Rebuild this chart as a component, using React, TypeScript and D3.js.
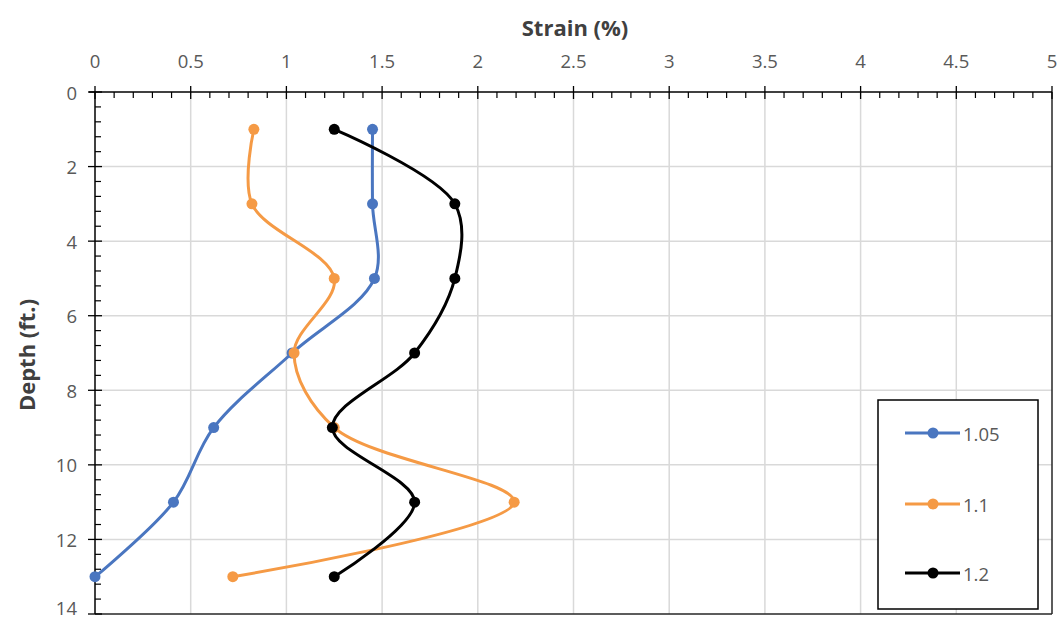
import * as d3 from 'd3';

const depths = [1, 3, 5, 7, 9, 11, 13];
const strain105 = [1.45, 1.45, 1.46, 1.03, 0.62, 0.41, 0];
const strain11 = [0.83, 0.82, 1.25, 1.04, 1.25, 2.19, 0.72];
const strain12 = [1.25, 1.88, 1.88, 1.67, 1.24, 1.67, 1.25];
const seriesNames = ['1.05', '1.1', '1.2'];
const seriesColors = ['#4A76C0', '#F59A45', '#000000'];
const xTicks = [0, 0.5, 1, 1.5, 2, 2.5, 3, 3.5, 4, 4.5, 5];
const yTicks = [0, 2, 4, 6, 8, 10, 12, 14];

const W = 1057;
const H = 618;
const font = '"Open Sans", "Noto Sans", sans-serif';

export default function App() {
  const x = d3.scaleLinear().domain([0, 5]).range([95, 1052]);
  const y = d3.scaleLinear().domain([0, 14]).range([92, 614]);

  const series = [strain105, strain11, strain12].map((vals, i) => ({
    name: seriesNames[i],
    color: seriesColors[i],
    pts: vals.map((v, j) => [v, depths[j]] as [number, number]),
  }));

  const line = d3.line<[number, number]>()
    .x(d => x(d[0]))
    .y(d => y(d[1]))
    .curve(d3.curveCatmullRom.alpha(0.5));

  const xMinor = d3.range(0, 50).map(i => i / 10).filter(v => Math.round(v * 10) % 5 !== 0);
  const yMinor = d3.range(0, 35).map(i => (i * 0.4)).filter(v => Math.abs(v / 2 - Math.round(v / 2)) > 0.01);

  const lx = 878, ly = 400, lw = 160, lh = 209;
  const legendY = [433, 504, 573];

  return (
    <div style={{ position: 'absolute', left: 0, top: 0, width: W, height: H, overflow: 'hidden', background: '#fff' }}>
      <svg width={W} height={H} style={{ display: 'block' }} fontFamily={font}>
        <rect width={W} height={H} fill="#fff" />
        {/* grid */}
        {xTicks.slice(1, -1).map(t => (
          <line key={'gx' + t} x1={x(t)} x2={x(t)} y1={y(0)} y2={y(14)} stroke="#D9D9D9" strokeWidth={1.5} />
        ))}
        {yTicks.slice(1, -1).map(t => (
          <line key={'gy' + t} x1={x(0)} x2={x(5)} y1={y(t)} y2={y(t)} stroke="#D9D9D9" strokeWidth={1.5} />
        ))}
        <line x1={x(5)} x2={x(5)} y1={y(0)} y2={y(14)} stroke="#262626" strokeWidth={1.5} />
        <line x1={x(0)} x2={x(5)} y1={y(14)} y2={y(14)} stroke="#262626" strokeWidth={1.5} />

        {/* top x axis */}
        <line x1={x(0) - 6} x2={x(5)} y1={y(0)} y2={y(0)} stroke="#000" strokeWidth={1.5} />
        {xTicks.map(t => (
          <g key={'xt' + t}>
            <line x1={x(t)} x2={x(t)} y1={y(0) - 6} y2={y(0) + 7} stroke="#000" strokeWidth={1.3} />
            <text x={x(t)} y={y(0) - 32} textAnchor="middle" dominantBaseline="central" fontSize={18.5} fill="#595959">{t}</text>
          </g>
        ))}
        {xMinor.map(t => (
          <line key={'xm' + t} x1={x(t)} x2={x(t)} y1={y(0)} y2={y(0) + 6} stroke="#000" strokeWidth={1.2} />
        ))}

        {/* left y axis */}
        <line x1={x(0)} x2={x(0)} y1={y(0)} y2={y(14)} stroke="#000" strokeWidth={1.5} />
        {yTicks.map(t => (
          <g key={'yt' + t}>
            <line x1={x(0) - 7} x2={x(0) + 7} y1={y(t)} y2={y(t)} stroke="#000" strokeWidth={1.3} />
            <text x={x(0) - 18} y={t === 14 ? y(t) - 7 : y(t)} textAnchor="end" dominantBaseline="central" fontSize={18.5} fill="#595959">{t}</text>
          </g>
        ))}
        {yMinor.map(t => (
          <line key={'ym' + t} x1={x(0)} x2={x(0) + 6} y1={y(t)} y2={y(t)} stroke="#000" strokeWidth={1.2} />
        ))}

        {/* axis titles */}
        <text x={575} y={27} textAnchor="middle" dominantBaseline="central" fontSize={22} fontWeight="bold" fill="#404040">Strain (%)</text>
        <text transform={`translate(26,355) rotate(-90)`} textAnchor="middle" dominantBaseline="central" fontSize={22} fontWeight="bold" fill="#404040">Depth (ft.)</text>

        {/* series */}
        {series.map(s => (
          <g key={s.name}>
            <path d={line(s.pts) ?? ''} fill="none" stroke={s.color} strokeWidth={3} />
            {s.pts.map((p, j) => (
              <circle key={j} cx={x(p[0])} cy={y(p[1])} r={5.5} fill={s.color} />
            ))}
          </g>
        ))}

        {/* legend */}
        <rect x={lx} y={ly} width={lw} height={lh} fill="#fff" stroke="#000" strokeWidth={1.5} />
        {series.map((s, i) => (
          <g key={'lg' + s.name}>
            <line x1={905} x2={960} y1={legendY[i]} y2={legendY[i]} stroke={s.color} strokeWidth={3} />
            <circle cx={933} cy={legendY[i]} r={5.5} fill={s.color} />
            <text x={963} y={legendY[i]} dominantBaseline="central" fontSize={18.5} fill="#595959">{s.name}</text>
          </g>
        ))}
      </svg>
    </div>
  );
}
